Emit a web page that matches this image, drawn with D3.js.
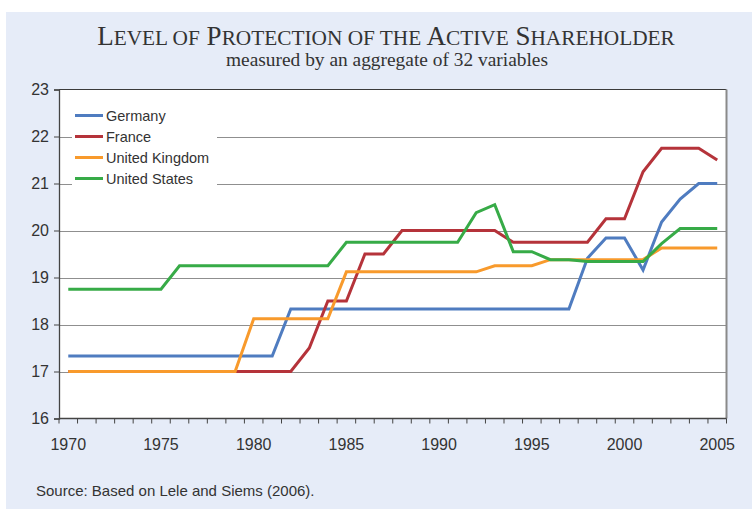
<!DOCTYPE html>
<html lang="en">
<head>
<meta charset="UTF-8">
<title>Level of Protection of the Active Shareholder</title>
<script src="https://d3js.org/d3.v7.min.js"></script>
<style>
  body { margin: 0; background: #fff; }
  svg text { fill: #333; }
</style>
</head>
<body>
<svg width="752" height="509" id="chart"></svg>
<script>
// years on the category axis
const years = d3.range(1970, 2006);
const yTicks = [16, 17, 18, 19, 20, 21, 22, 23];
const xLabels = [1970, 1975, 1980, 1985, 1990, 1995, 2000, 2005];

// values per country, one per year 1970..2005
const germany = [17.33, 17.33, 17.33, 17.33, 17.33, 17.33, 17.33, 17.33, 17.33, 17.33,
                 17.33, 17.33, 18.33, 18.33, 18.33, 18.33, 18.33, 18.33, 18.33, 18.33,
                 18.33, 18.33, 18.33, 18.33, 18.33, 18.33, 18.33, 18.33, 19.41, 19.84,
                 19.84, 19.16, 20.18, 20.67, 21.0, 21.0];
const france  = [17, 17, 17, 17, 17, 17, 17, 17, 17, 17,
                 17, 17, 17, 17.5, 18.5, 18.5, 19.5, 19.5, 20, 20,
                 20, 20, 20, 20, 19.75, 19.75, 19.75, 19.75, 19.75, 20.25,
                 20.25, 21.25, 21.75, 21.75, 21.75, 21.5];
const uk      = [17, 17, 17, 17, 17, 17, 17, 17, 17, 17,
                 18.12, 18.12, 18.12, 18.12, 18.12, 19.12, 19.12, 19.12, 19.12, 19.12,
                 19.12, 19.12, 19.12, 19.25, 19.25, 19.25, 19.38, 19.38, 19.38, 19.38,
                 19.38, 19.38, 19.63, 19.63, 19.63, 19.63];
const us      = [18.75, 18.75, 18.75, 18.75, 18.75, 18.75, 19.25, 19.25, 19.25, 19.25,
                 19.25, 19.25, 19.25, 19.25, 19.25, 19.75, 19.75, 19.75, 19.75, 19.75,
                 19.75, 19.75, 20.38, 20.55, 19.55, 19.55, 19.38, 19.38, 19.34, 19.34,
                 19.34, 19.34, 19.72, 20.04, 20.04, 20.04];

const series = [
  { name: "Germany", values: germany, color: "#4f7cc0" },
  { name: "France", values: france, color: "#b5333a" },
  { name: "United Kingdom", values: uk, color: "#f89a2c" },
  { name: "United States", values: us, color: "#37ab47" }
];

const svg = d3.select("#chart");
const W = 752, H = 509;
const plot = { left: 59, top: 89.5, right: 726.5, bottom: 418.5 };

// background panel
svg.append("rect").attr("x", 6).attr("y", 12).attr("width", W - 6).attr("height", H - 12)
  .attr("fill", "#e6ecf8");

// title in small caps: capital letters big, the rest as smaller capitals
const title = svg.append("text").attr("x", 386).attr("y", 45)
  .attr("text-anchor", "middle")
  .style("font-family", "'Liberation Serif', 'Times New Roman', serif")
  .style("fill", "#333");
"Level of Protection of the Active Shareholder".split(" ").forEach((w, i) => {
  const big = w[0] === w[0].toUpperCase();
  if (big) {
    title.append("tspan").style("font-size", "27px").text((i ? " " : "") + w[0]);
    title.append("tspan").style("font-size", "21.3px").text(w.slice(1).toUpperCase());
  } else {
    title.append("tspan").style("font-size", "21.3px").text((i ? " " : "") + w.toUpperCase());
  }
});

svg.append("text").attr("x", 387).attr("y", 66)
  .attr("text-anchor", "middle")
  .style("font-family", "'Liberation Serif', 'Times New Roman', serif")
  .style("font-size", "19.4px")
  .text("measured by an aggregate of 32 variables");

const x = d3.scaleBand().domain(years).range([plot.left, plot.right]);
const y = d3.scaleLinear().domain([16, 23]).range([plot.bottom, plot.top]);
const cx = d => x(d) + x.bandwidth() / 2;

// plot area
svg.append("rect").attr("x", plot.left).attr("y", plot.top)
  .attr("width", plot.right - plot.left).attr("height", plot.bottom - plot.top)
  .attr("fill", "#fff");

// gridlines
svg.append("g").selectAll("line").data(yTicks.slice(1, -1)).join("line")
  .attr("x1", plot.left).attr("x2", plot.right)
  .attr("y1", d => Math.round(y(d)) + 0.5).attr("y2", d => Math.round(y(d)) + 0.5)
  .attr("stroke", "#8f8f8f").attr("stroke-width", 1.2);

// legend (white box hides the gridlines under it)
const legend = svg.append("g");
legend.append("rect").attr("x", 72).attr("y", 100).attr("width", 145).attr("height", 94)
  .attr("fill", "#fff");
series.forEach((s, i) => {
  const ly = 115.5 + i * 21;
  legend.append("line").attr("x1", 75).attr("x2", 103).attr("y1", ly).attr("y2", ly)
    .attr("stroke", s.color).attr("stroke-width", 3);
  legend.append("text").attr("x", 106).attr("y", ly + 5)
    .style("font-family", "'Liberation Sans', Arial, sans-serif")
    .style("font-size", "14.5px")
    .text(s.name);
});

// lines
const line = d3.line().x((d, i) => cx(years[i])).y(d => y(d));
svg.append("g").selectAll("path").data(series).join("path")
  .attr("d", d => line(d.values))
  .attr("fill", "none")
  .attr("stroke", d => d.color)
  .attr("stroke-width", 3)
  .attr("stroke-linejoin", "miter");

// plot border
svg.append("line").attr("x1", plot.left).attr("x2", plot.right).attr("y1", plot.top).attr("y2", plot.top)
  .attr("stroke", "#3a3a3a").attr("stroke-width", 1.2);
svg.append("line").attr("x1", plot.right).attr("x2", plot.right).attr("y1", plot.top).attr("y2", plot.bottom)
  .attr("stroke", "#8a8a8a").attr("stroke-width", 2);

// y axis
const yAxis = svg.append("g").attr("transform", `translate(${plot.left},0)`)
  .call(d3.axisLeft(y).tickValues(yTicks).tickSize(5).tickPadding(5).tickFormat(d3.format("d")));
yAxis.select(".domain").attr("stroke", "#444").attr("stroke-width", 1.3);
yAxis.selectAll(".tick line").attr("stroke", "#444");
yAxis.selectAll("text")
  .style("font-family", "'Liberation Sans', Arial, sans-serif").style("font-size", "16px")
  .style("fill", "#333");

// x axis: ticks on category boundaries, labels every 5 years
const bounds = years.map(d => x(d)).concat([plot.right]);
const xg = svg.append("g");
xg.append("line").attr("x1", plot.left).attr("x2", plot.right)
  .attr("y1", plot.bottom).attr("y2", plot.bottom)
  .attr("stroke", "#444").attr("stroke-width", 1.3);
xg.selectAll(".tk").data(bounds).join("line").attr("class", "tk")
  .attr("x1", d => d).attr("x2", d => d)
  .attr("y1", plot.bottom).attr("y2", plot.bottom + 5)
  .attr("stroke", "#444");
xg.selectAll("text").data(xLabels).join("text")
  .attr("x", d => cx(d)).attr("y", 450)
  .attr("text-anchor", "middle")
  .style("font-family", "'Liberation Sans', Arial, sans-serif").style("font-size", "16px")
  .text(d => d);

svg.append("text").attr("x", 36).attr("y", 496)
  .style("font-family", "'Liberation Sans', Arial, sans-serif").style("font-size", "15px")
  .text("Source: Based on Lele and Siems (2006).");
</script>
</body>
</html>
